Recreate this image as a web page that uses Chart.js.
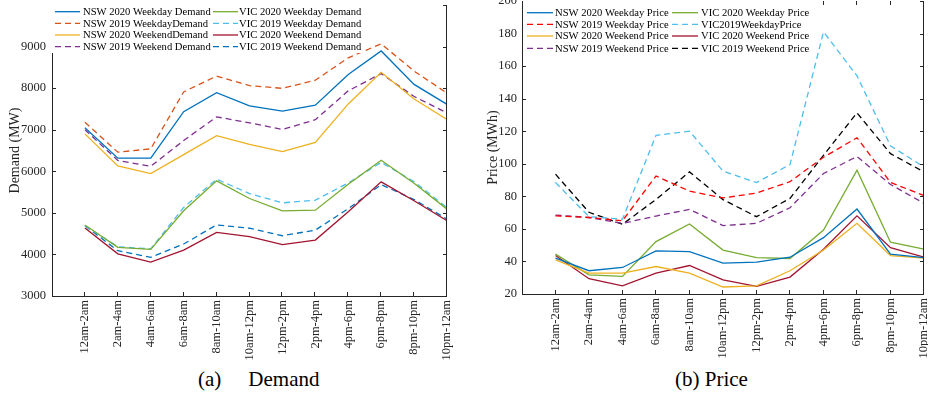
<!DOCTYPE html>
<html>
<head>
<meta charset="utf-8">
<script src="https://cdn.jsdelivr.net/npm/chart.js@4.4.1/dist/chart.umd.min.js"></script>
<style>
  body { margin: 0; background: #fff; }
  #wrap { position: relative; width: 928px; height: 398px; overflow: hidden; }
  canvas { position: absolute; top: 0; }
  .cap { position: absolute; top: 369px; font-family: "Liberation Serif", "Times New Roman", serif;
         font-size: 21px; line-height: 21px; color: #000; white-space: nowrap; }
</style>
</head>
<body>
<div id="wrap">
  <canvas id="demandChart" width="465" height="360" style="left:0px"></canvas>
  <canvas id="priceChart" width="463" height="360" style="left:465px"></canvas>
  <div class="cap" style="left:198px">(a)<span style="margin-left:27px">Demand</span></div>
  <div class="cap" style="left:675px">(b) Price</div>
</div>
<script>
//////////////// DATA /////////////////////////////////
var timeLabels = ['12am-2am', '2am-4am', '4am-6am', '6am-8am', '8am-10am', '10am-12pm',
                  '12pm-2pm', '2pm-4pm', '4pm-6pm', '6pm-8pm', '8pm-10pm', '10pm-12am'];

// demand (MW)
var nsw2020WeekdayDemand = [7045, 6315, 6315, 7435, 7890, 7575, 7445, 7590, 8330, 8895, 8090, 7610];
var nsw2019WeekdayDemand = [7180, 6460, 6540, 7910, 8290, 8060, 7995, 8190, 8730, 9065, 8410, 7880];
var nsw2020WeekendDemand = [6900, 6130, 5945, 6400, 6855, 6645, 6475, 6695, 7620, 8380, 7740, 7245];
var nsw2019WeekendDemand = [7000, 6260, 6120, 6740, 7310, 7165, 7005, 7240, 7935, 8350, 7800, 7405];
var vic2020WeekdayDemand = [4710, 4170, 4120, 5050, 5770, 5345, 5050, 5065, 5690, 6265, 5710, 5090];
var vic2019WeekdayDemand = [4690, 4185, 4135, 5130, 5810, 5465, 5240, 5305, 5720, 6215, 5750, 5125];
var vic2020WeekendDemand = [4635, 4015, 3815, 4105, 4530, 4430, 4235, 4345, 5025, 5745, 5290, 4810];
var vic2019WeekendDemand = [4690, 4090, 3930, 4250, 4710, 4630, 4450, 4585, 5100, 5680, 5320, 4850];

// price
var nsw2020WeekdayPrice = [42, 34.3, 36.3, 46.5, 46, 39, 39.6, 42.6, 54.6, 72.2, 44.5, 42.4];
var nsw2019WeekdayPrice = [68, 67, 65, 92.5, 83.2, 79, 82, 89, 104, 116, 88.5, 80.5];
var nsw2020WeekendPrice = [41, 32.8, 32.8, 36.9, 32.8, 24.3, 25, 34.3, 47, 63.4, 43.6, 42];
var nsw2019WeekendPrice = [68.5, 67, 63.4, 67.9, 72, 62, 63.4, 73, 94, 104.5, 87.3, 75.7];
var vic2020WeekdayPrice = [44.5, 31.8, 30.8, 52.2, 63, 47, 42.4, 41.8, 59.3, 96, 51.8, 47.5];
var vic2019WeekdayPrice = [88.5, 67.5, 66, 117.5, 120, 95.5, 88.5, 99.5, 181, 154, 111, 98];
var vic2020WeekendPrice = [43.6, 29.4, 25, 32.8, 37.5, 28.7, 24.7, 30.4, 47.5, 68, 48.5, 42.6];
var vic2019WeekendPrice = [93.6, 70.2, 62.8, 78.1, 95, 78, 67.5, 78.7, 105.2, 131.3, 106.2, 95];

var demandTicks = [3000, 4000, 5000, 6000, 7000, 8000, 9000, 10000];
var priceTicks = [20, 40, 60, 80, 100, 120, 140, 160, 180, 200];

var serif = '"Liberation Serif", "Times New Roman", serif';
var axisColor = '#262626';
var dash = [6, 4];

//////////////// MATLAB-LIKE AXES + LEGEND /////////////////////////////////
var matlabAxes = {
  id: 'matlabAxes',
  afterDraw: function(chart, args, opts) {
    var ctx = chart.ctx, a = chart.chartArea;
    var x = chart.scales.x, y = chart.scales.y;
    var tl = 4;
    ctx.save();
    ctx.strokeStyle = axisColor;
    ctx.lineWidth = 1;
    ctx.beginPath();
    ctx.moveTo(a.left + 0.5, a.top);
    ctx.lineTo(a.left + 0.5, a.bottom + 0.5);
    ctx.lineTo(a.right - 0.5, a.bottom + 0.5);
    ctx.lineTo(a.right - 0.5, a.top);
    // inward ticks
    x.ticks.forEach(function(t) {
      var px = Math.round(x.getPixelForValue(t.value)) - 0.5;
      ctx.moveTo(px, a.bottom);
      ctx.lineTo(px, a.bottom - tl);
      if (opts.topTicks) {
        ctx.moveTo(px, a.top);
        ctx.lineTo(px, a.top + tl);
      }
    });
    y.ticks.forEach(function(t) {
      var py = Math.round(y.getPixelForValue(t.value)) + 0.5;
      ctx.moveTo(a.left, py);
      ctx.lineTo(a.left + tl, py);
      ctx.moveTo(a.right, py);
      ctx.lineTo(a.right - tl, py);
    });
    ctx.stroke();

    // legend, two columns of four
    var lg = opts.legend;
    ctx.fillStyle = '#fff';
    ctx.fillRect(lg.box[0], lg.box[1], lg.box[2], lg.box[3]);
    ctx.font = lg.fontSize + 'px ' + serif;
    ctx.textBaseline = 'middle';
    ctx.textAlign = 'left';
    chart.data.datasets.forEach(function(ds, i) {
      var col = Math.floor(i / 4), row = i % 4;
      var ly = lg.rows[row];
      var lx = lg.lineX[col];
      ctx.beginPath();
      ctx.strokeStyle = ds.borderColor;
      ctx.lineWidth = ds.borderWidth;
      ctx.setLineDash(ds.borderDash || []);
      ctx.moveTo(lx, ly);
      ctx.lineTo(lx + lg.lineLen, ly);
      ctx.stroke();
      ctx.setLineDash([]);
      ctx.fillStyle = '#000';
      ctx.fillText(ds.label, lg.textX[col], ly + 0.5);
    });
    ctx.restore();
  }
};

function series(label, values, color, dashed) {
  return {
    label: label,
    data: values.map(function(v, i) { return {x: i + 1, y: v}; }),
    borderColor: color,
    borderWidth: 1.3,
    borderDash: dashed ? dash : [],
    pointRadius: 0,
    fill: false,
    tension: 0
  };
}

function makeChart(id, datasets, cfg) {
  return new Chart(document.getElementById(id), {
    type: 'line',
    data: {datasets: datasets},
    plugins: [matlabAxes],
    options: {
      responsive: false,
      animation: false,
      layout: {padding: {left: 0, right: cfg.padRight, top: cfg.padTop, bottom: 0}},
      plugins: {
        legend: {display: false},
        tooltip: {enabled: false},
        matlabAxes: {topTicks: cfg.topTicks, legend: cfg.legend}
      },
      scales: {
        x: {
          type: 'linear',
          min: 0,
          max: 12,
          grid: {display: false, drawTicks: false},
          border: {display: false},
          afterBuildTicks: function(s) {
            s.ticks = timeLabels.map(function(_, i) { return {value: i + 1}; });
          },
          ticks: {
            autoSkip: false,
            minRotation: 90,
            maxRotation: 90,
            padding: 4,
            color: axisColor,
            font: {family: serif, size: 12.5},
            callback: function(v) { return timeLabels[v - 1]; }
          },
          afterFit: function(s) {
            s.height = cfg.xHeight;
            s.paddingLeft = 0;
            s.paddingRight = 0;
          }
        },
        y: {
          min: cfg.yTicks[0],
          max: cfg.yTicks[cfg.yTicks.length - 1],
          grid: {display: false, drawTicks: false},
          border: {display: false},
          afterBuildTicks: function(s) {
            s.ticks = cfg.yTicks.map(function(v) { return {value: v}; });
          },
          ticks: {
            padding: cfg.tickPad,
            color: axisColor,
            font: {family: serif, size: 12.5},
            callback: function(v) { return v === cfg.hideTick ? '' : String(v); }
          },
          title: {
            display: true,
            text: cfg.yTitle,
            color: axisColor,
            font: {family: serif, size: 14},
            padding: {top: cfg.titlePad, bottom: 0}
          },
          afterFit: function(s) {
            s.width = cfg.yWidth;
            s.paddingTop = 0;
            s.paddingBottom = 0;
          }
        }
      }
    }
  });
}

//////////////// CHARTS /////////////////////////////////
makeChart('demandChart', [
  series('NSW 2020 Weekday Demand', nsw2020WeekdayDemand, '#0072BD', false),
  series('NSW 2019 WeekdayDemand', nsw2019WeekdayDemand, '#D95319', true),
  series('NSW 2020 WeekendDemand', nsw2020WeekendDemand, '#EDB120', false),
  series('NSW 2019 Weekend Demand', nsw2019WeekendDemand, '#7E2F8E', true),
  series('VIC 2020 Weekday Demand', vic2020WeekdayDemand, '#77AC30', false),
  series('VIC 2019 Weekday Demand', vic2019WeekdayDemand, '#4DBEEE', true),
  series('VIC 2020 Weekend Demand', vic2020WeekendDemand, '#A2142F', false),
  series('VIC 2019 Weekend Demand', vic2019WeekendDemand, '#0072BD', true)
], {
  padRight: 18, padTop: 5, xHeight: 64, yWidth: 52, tickPad: 6, titlePad: 6.5,
  yTicks: demandTicks, hideTick: 10000, yTitle: 'Demand (MW)', topTicks: false,
  legend: {box: [50, 0, 312, 53], rows: [11.7, 23.3, 35, 46.7], lineX: [55, 213], textX: [83, 239],
           lineLen: 25, fontSize: 10.6}
});

makeChart('priceChart', [
  series('NSW 2020 Weekday Price', nsw2020WeekdayPrice, '#0072BD', false),
  series('NSW 2019 Weekday Price', nsw2019WeekdayPrice, '#FF0000', true),
  series('NSW 2020 Weekend Price', nsw2020WeekendPrice, '#EDB120', false),
  series('NSW 2019 Weekend Price', nsw2019WeekendPrice, '#7E2F8E', true),
  series('VIC 2020 Weekday Price', vic2020WeekdayPrice, '#77AC30', false),
  series('VIC2019WeekdayPrice', vic2019WeekdayPrice, '#4DBEEE', true),
  series('VIC 2020 Weekend Price', vic2020WeekendPrice, '#A2142F', false),
  series('VIC 2019 Weekend Price', vic2019WeekendPrice, '#000000', true)
], {
  padRight: 4, padTop: 1, xHeight: 66, yWidth: 57, tickPad: 5, titlePad: 19.5,
  yTicks: priceTicks, hideTick: null, yTitle: 'Price (MWh)', topTicks: true,
  legend: {box: [58, 0, 292, 56], rows: [12.7, 24.3, 36, 48.3], lineX: [62, 207], textX: [90, 236],
           lineLen: 26, fontSize: 10.6}
});
</script>
</body>
</html>
